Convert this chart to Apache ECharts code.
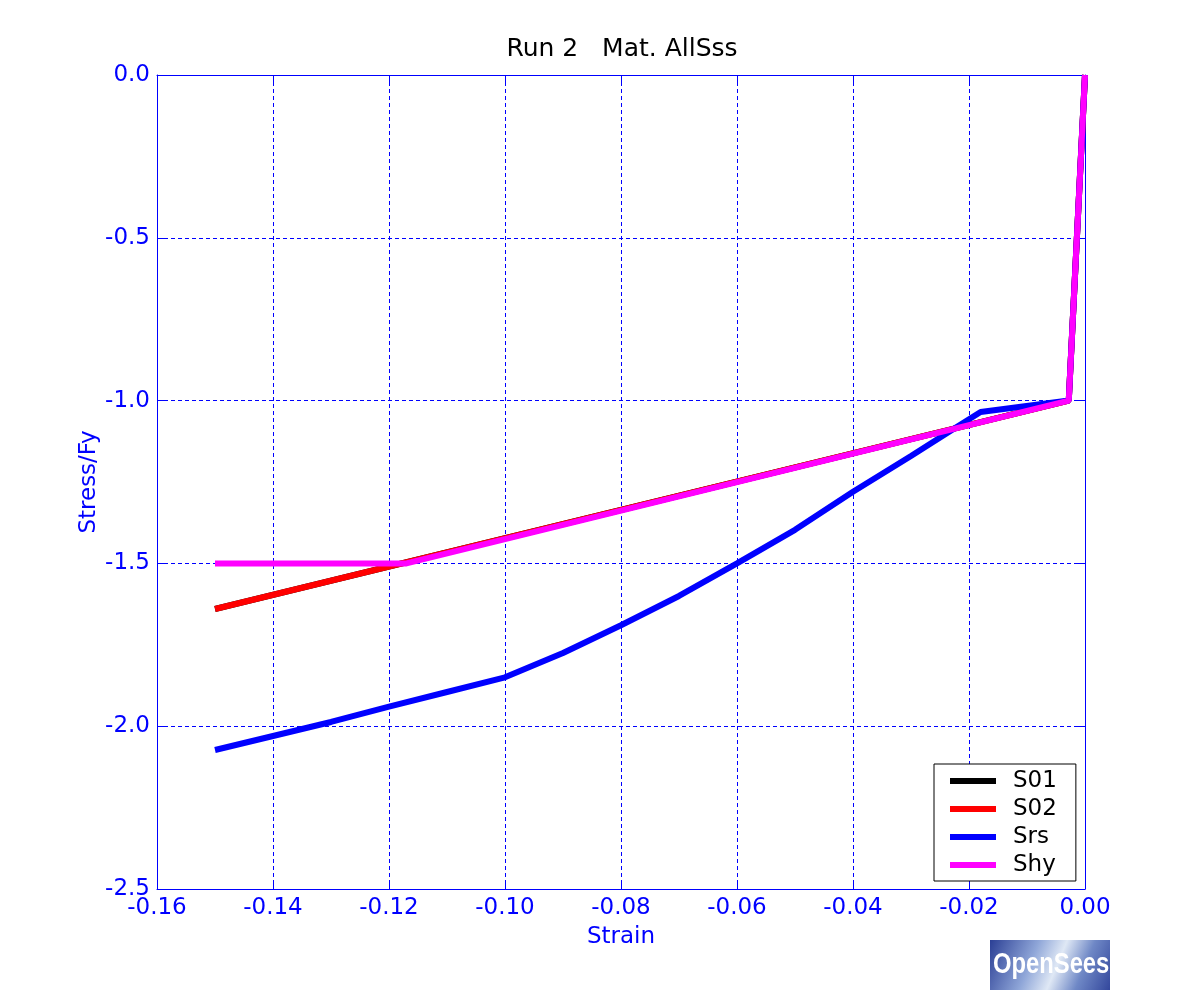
<!DOCTYPE html>
<html>
<head>
<meta charset="utf-8">
<script src="https://cdn.jsdelivr.net/npm/echarts@6/dist/echarts.min.js"></script>
<style>
html,body{margin:0;padding:0;background:#fff;}
#chart{width:1200px;height:1000px;}
</style>
</head>
<body>
<div id="chart"></div>
<script>
// ---- data ----
const titleText = 'Run 2   Mat. AllSss';
const seriesNames = ['S01', 'S02', 'Srs', 'Shy'];
const seriesColors = ['#000000', '#ff0000', '#0000ff', '#ff00ff'];

const strainS01 = [0, -0.0028, -0.15];
const stressS01 = [0, -1.0, -1.64];

const strainS02 = [0, -0.0028, -0.15];
const stressS02 = [0, -1.0, -1.64];

const strainSrs = [0, -0.0028, -0.018, -0.0224, -0.03, -0.04, -0.05, -0.06, -0.07, -0.08, -0.09, -0.10, -0.11, -0.12, -0.13, -0.14, -0.15];
const stressSrs = [0, -1.0, -1.035, -1.084, -1.17, -1.28, -1.397, -1.50, -1.60, -1.69, -1.775, -1.85, -1.895, -1.94, -1.987, -2.03, -2.073];

const strainShy = [0, -0.0028, -0.117, -0.15];
const stressShy = [0, -1.0, -1.5, -1.5];

const xMin = -0.16, xMax = 0, xStep = 0.02;
const yMin = -2.5, yMax = 0, yStep = 0.5;

// ---- build ----
function zip(xs, ys) { return xs.map((x, i) => [x, ys[i]]); }
const allData = [zip(strainS01, stressS01), zip(strainS02, stressS02), zip(strainSrs, stressSrs), zip(strainShy, stressShy)];

const FONT = '"DejaVu Sans", sans-serif';
const BLUE = '#0000ff';

const chart = echarts.init(document.getElementById('chart'), null, {renderer: 'canvas'});

function fmt(v, d) { if (Math.abs(v) < 1e-9) v = 0; return v.toFixed(d); }

function axisLine() { return {show: true, onZero: false, lineStyle: {color: BLUE, width: 1}}; }
function axisTick() { return {show: true, inside: true, length: 8, lineStyle: {color: BLUE, width: 1}}; }
function gridLine() { return {show: true, lineStyle: {color: BLUE, width: 1, type: [4, 3]}}; }

chart.setOption({
  animation: false,
  backgroundColor: '#ffffff',
  title: {
    text: titleText,
    left: 617, top: 32, textAlign: 'center',
    textStyle: {color: '#000', fontSize: 25, fontWeight: 'normal', fontFamily: FONT}
  },
  grid: {left: 157, right: 115, top: 75, bottom: 111, containLabel: false},
  xAxis: [
    {
      type: 'value', min: xMin, max: xMax, interval: xStep, position: 'bottom',
      axisLine: axisLine(), axisTick: axisTick(),
      name: 'Strain', nameLocation: 'middle', nameGap: 37, nameMoveOverlap: false,
      nameTextStyle: {color: BLUE, fontSize: 23, fontFamily: FONT},
      axisLabel: {color: BLUE, fontSize: 23, fontFamily: FONT, margin: 8, formatter: v => fmt(v, 2)},
      splitLine: gridLine()
    },
    {
      type: 'value', min: xMin, max: xMax, interval: xStep, position: 'top',
      axisLine: axisLine(), axisTick: axisTick(),
      axisLabel: {show: false}, splitLine: {show: false}
    }
  ],
  yAxis: [
    {
      type: 'value', min: yMin, max: yMax, interval: yStep, position: 'left',
      axisLine: axisLine(), axisTick: axisTick(),
      name: 'Stress/Fy', nameLocation: 'middle', nameGap: 56, nameRotate: 90, nameMoveOverlap: false,
      nameTextStyle: {color: BLUE, fontSize: 23, fontFamily: FONT},
      axisLabel: {color: BLUE, fontSize: 23, fontFamily: FONT, margin: 7, formatter: v => fmt(v, 1)},
      splitLine: gridLine()
    },
    {
      type: 'value', min: yMin, max: yMax, interval: yStep, position: 'right',
      axisLine: axisLine(), axisTick: axisTick(),
      axisLabel: {show: false}, splitLine: {show: false}
    }
  ],
  legend: {
    orient: 'vertical',
    left: 934, top: 764,
    backgroundColor: '#fff',
    borderColor: '#000', borderWidth: 1, borderRadius: 0,
    padding: [5, 19, 4, 16],
    itemGap: 4,
    itemWidth: 46, itemHeight: 6,
    icon: 'rect',
    data: seriesNames,
    textStyle: {color: '#000', fontSize: 23, fontFamily: FONT, padding: [0, 0, 0, 12], lineHeight: 24}
  },
  series: seriesNames.map((n, i) => ({
    name: n, type: 'line', data: allData[i],
    xAxisIndex: 0, yAxisIndex: 0,
    showSymbol: false, symbol: 'none',
    color: seriesColors[i],
    lineStyle: {color: seriesColors[i], width: 6},
    itemStyle: {color: seriesColors[i]},
    z: 2 + i
  })),
  graphic: [
    {
      type: 'rect', left: 990, top: 940,
      shape: {width: 120, height: 50},
      style: {
        fill: new echarts.graphic.LinearGradient(0, 0, 1, 1, [
          {offset: 0, color: '#2b3f95'},
          {offset: 0.35, color: '#8fa6d8'},
          {offset: 0.55, color: '#dfe8f5'},
          {offset: 0.75, color: '#6f88c6'},
          {offset: 1, color: '#33479c'}
        ])
      }
    },
    {
      type: 'text', x: 993, y: 950, scaleX: 0.82,
      style: {
        text: 'OpenSees', fill: '#ffffff',
        font: 'bold 29px "Liberation Sans", Arial, sans-serif',
        textShadowColor: '#1a1a40', textShadowBlur: 0, textShadowOffsetX: 2, textShadowOffsetY: 2
      }
    }
  ]
});
</script>
</body>
</html>
